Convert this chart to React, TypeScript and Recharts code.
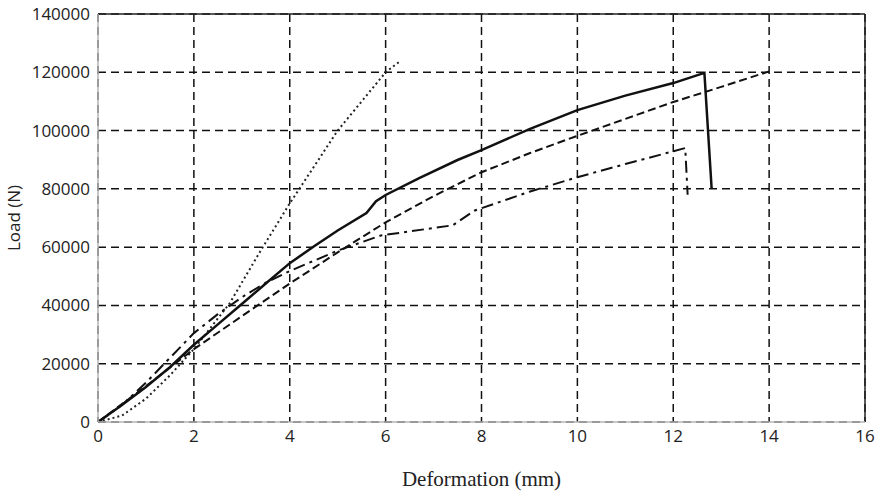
import React from "react";
import {
  LineChart,
  Line,
  XAxis,
  YAxis,
  CartesianGrid,
  ReferenceLine,
  Label,
} from "recharts";

const xTicks = [0, 2, 4, 6, 8, 10, 12, 14, 16];
const yTicks = [0, 20000, 40000, 60000, 80000, 100000, 120000, 140000];

const solidSeries = [
  { x: 0, y: 0 }, { x: 0.5, y: 5800 }, { x: 1, y: 12000 }, { x: 1.5, y: 18800 },
  { x: 2, y: 26500 }, { x: 2.5, y: 33500 }, { x: 3, y: 40500 }, { x: 3.5, y: 47500 },
  { x: 4, y: 54500 }, { x: 4.5, y: 60200 }, { x: 5, y: 65700 }, { x: 5.6, y: 71700 },
  { x: 5.8, y: 75800 }, { x: 6, y: 77900 }, { x: 6.7, y: 83700 }, { x: 7.5, y: 89900 },
  { x: 8, y: 93300 }, { x: 9, y: 100500 }, { x: 10, y: 107000 }, { x: 11, y: 112000 },
  { x: 12, y: 116300 }, { x: 12.65, y: 119800 }, { x: 12.8, y: 80300 },
];

const dashedSeries = [
  { x: 0, y: 0 }, { x: 1, y: 12300 }, { x: 2, y: 25000 }, { x: 3, y: 36300 },
  { x: 4, y: 47500 }, { x: 5, y: 58200 }, { x: 6, y: 68500 }, { x: 7, y: 77500 },
  { x: 8, y: 85700 }, { x: 9, y: 92200 }, { x: 10, y: 98200 }, { x: 11, y: 104000 },
  { x: 12, y: 109800 }, { x: 13, y: 115000 }, { x: 14, y: 120300 },
];

const dashDotSeries = [
  { x: 0, y: 0 }, { x: 0.5, y: 5800 }, { x: 1, y: 13500 }, { x: 1.5, y: 22000 },
  { x: 2, y: 30500 }, { x: 2.5, y: 37000 }, { x: 3, y: 42800 }, { x: 3.5, y: 47800 },
  { x: 4, y: 51800 }, { x: 5, y: 58800 }, { x: 5.9, y: 64000 }, { x: 7.4, y: 67500 },
  { x: 7.85, y: 72500 }, { x: 9, y: 79000 }, { x: 10, y: 84000 }, { x: 11, y: 88500 },
  { x: 12.25, y: 94000 }, { x: 12.3, y: 78000 },
];

const dottedSeries = [
  { x: 0, y: 0 }, { x: 0.5, y: 2200 }, { x: 1, y: 8000 }, { x: 1.5, y: 16000 },
  { x: 2, y: 25000 }, { x: 2.75, y: 40800 }, { x: 3.4, y: 59000 }, { x: 4, y: 75000 },
  { x: 5, y: 100000 }, { x: 6, y: 120000 }, { x: 6.3, y: 123800 },
];

const tickStyle = { fontFamily: "Open Sans", fontSize: 17, fill: "#222" };

export default function App() {
  return (
    <div style={{ position: "absolute", left: 0, top: 0 }}>
      <LineChart
        width={882}
        height={492}
        margin={{ top: 14, right: 17, left: 0, bottom: 0 }}
      >
        <CartesianGrid
          stroke="#111"
          strokeWidth={1.5}
          strokeDasharray="8 5"
          horizontalValues={yTicks}
          verticalValues={xTicks}
        />
        <XAxis
          type="number"
          dataKey="x"
          domain={[0, 16]}
          ticks={xTicks}
          tickLine={false}
          axisLine={{ stroke: "#b5b5b5", strokeWidth: 1.5 }}
          tick={tickStyle}
          height={70}
          allowDuplicatedCategory={false}
        >
          <Label
            value="Deformation (mm)"
            position="insideBottom"
            offset={6}
            style={{ fontFamily: "Liberation Serif", fontSize: 21, fill: "#222" }}
          />
        </XAxis>
        <YAxis
          type="number"
          domain={[0, 140000]}
          ticks={yTicks}
          tickLine={false}
          axisLine={{ stroke: "#b5b5b5", strokeWidth: 1.5 }}
          tick={tickStyle}
          width={98}
        >
          <Label
            value="Load (N)"
            angle={-90}
            position="insideLeft"
            offset={14}
            style={{ fontFamily: "Open Sans", fontSize: 17, fill: "#222", textAnchor: "middle" }}
          />
        </YAxis>
        <ReferenceLine y={140000} stroke="#222" strokeWidth={1.5} />
        <ReferenceLine x={16} stroke="#222" strokeWidth={1.5} />
        <Line
          data={dottedSeries}
          dataKey="y"
          type="linear"
          stroke="#222"
          strokeWidth={2}
          strokeDasharray="2 3"
          dot={false}
          isAnimationActive={false}
        />
        <Line
          data={dashDotSeries}
          dataKey="y"
          type="linear"
          stroke="#111"
          strokeWidth={2}
          strokeDasharray="12 5 3 5"
          dot={false}
          isAnimationActive={false}
        />
        <Line
          data={dashedSeries}
          dataKey="y"
          type="linear"
          stroke="#111"
          strokeWidth={2}
          strokeDasharray="8 4"
          dot={false}
          isAnimationActive={false}
        />
        <Line
          data={solidSeries}
          dataKey="y"
          type="linear"
          stroke="#111"
          strokeWidth={2.5}
          dot={false}
          isAnimationActive={false}
        />
      </LineChart>
    </div>
  );
}
